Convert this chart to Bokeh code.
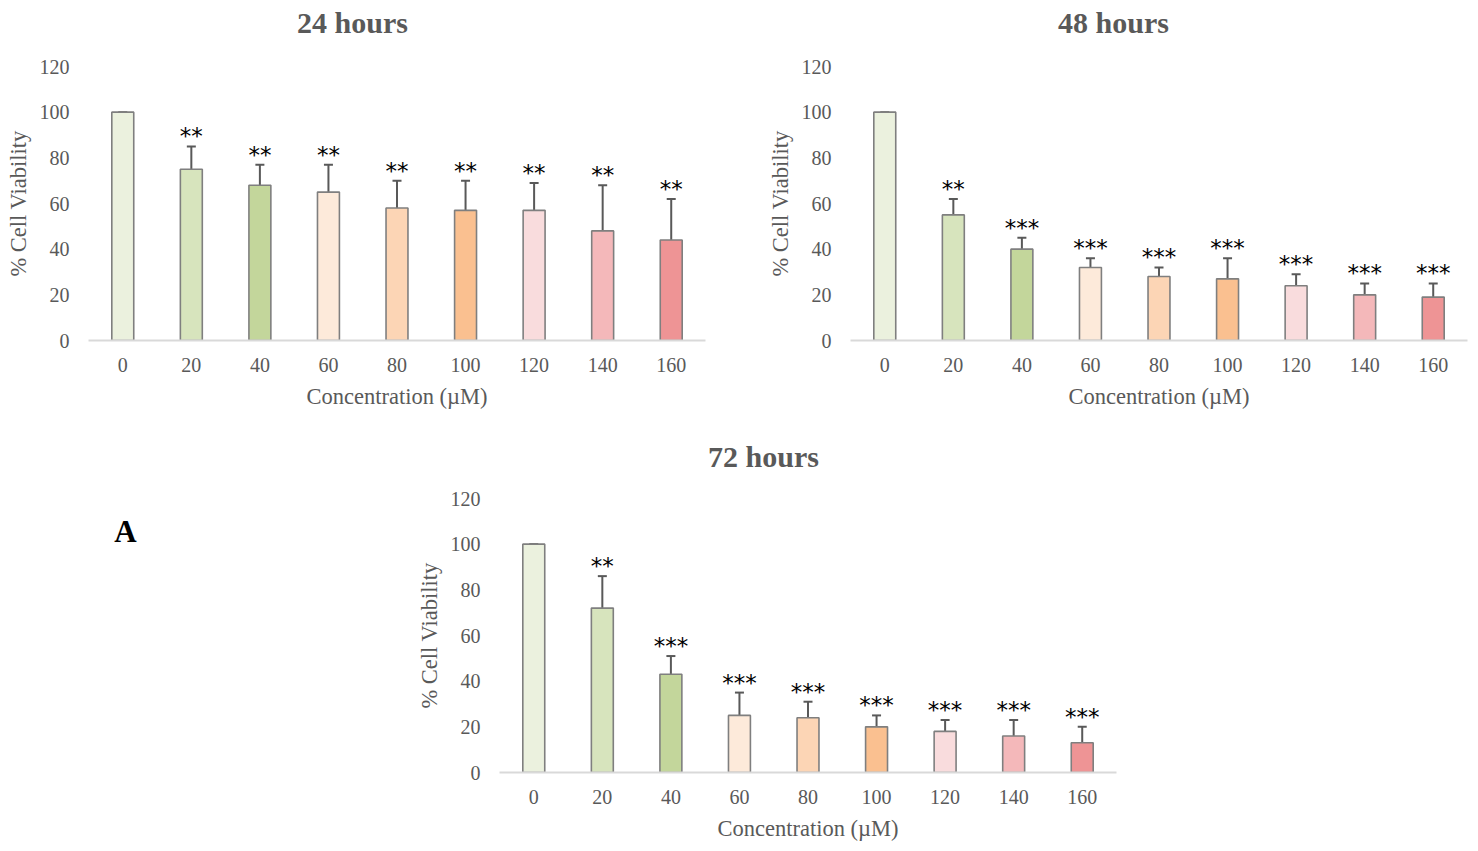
from bokeh.plotting import figure
from bokeh.models import ColumnDataSource, Whisker, TeeHead, Range1d, FixedTicker
from bokeh.layouts import column, row
from bokeh.core.properties import value
from bokeh.embed import file_html
from bokeh.resources import INLINE

# concentrations (µM) and bar colours
concentrations = ["0", "20", "40", "60", "80", "100", "120", "140", "160"]
bar_colors = ["#ebf1de", "#d7e4bd", "#c3d69b", "#fdeada", "#fcd5b5",
              "#fac090", "#f9dcdd", "#f4b8ba", "#ee9495"]

# % cell viability, standard deviation and significance marks
viab_24 = [100, 75, 68, 65, 58, 57, 57, 48, 44]
err_24 = [0, 10, 9, 12, 12, 13, 12, 20, 18]
stars_24 = ["", "**", "**", "**", "**", "**", "**", "**", "**"]

viab_48 = [100, 55, 40, 32, 28, 27, 24, 20, 19]
err_48 = [0, 7, 5, 4, 4, 9, 5, 5, 6]
stars_48 = ["", "**", "***", "***", "***", "***", "***", "***", "***"]

viab_72 = [100, 72, 43, 25, 24, 20, 18, 16, 13]
err_72 = [0, 14, 8, 10, 7, 5, 5, 7, 7]
stars_72 = ["", "**", "***", "***", "***", "***", "***", "***", "***"]

FONT = "Liberation Serif"
GREY = "#595959"
FRAME_W, FRAME_H = 617, 274


def blank(width, height, left=0, right=0):
    """Empty figure (no axes) used to hold titles / the panel letter."""
    fw = width - left - right
    p = figure(width=width, height=height, x_range=Range1d(0, fw),
               y_range=Range1d(height, 0), x_axis_type=None, y_axis_type=None,
               min_border=0, min_border_left=left, min_border_right=right,
               output_backend="svg", toolbar_location=None)
    p.outline_line_color = None
    p.grid.visible = False
    return p


def header(text, left, right, height, cx, cy):
    # cx is measured from the left edge of the panel frame below
    h = blank(left + FRAME_W + right, height, left, right)
    h.text(x=[cx], y=[cy], text=[text], text_font=value(FONT),
           text_font_size="30px", text_font_style="bold", text_color=GREY,
           text_align="center", text_baseline="middle")
    return h


def make_panel(values, errors, stars, border_left, border_top,
               border_right, border_bottom):
    p = figure(x_range=concentrations, y_range=Range1d(0, 120),
               width=border_left + FRAME_W + border_right,
               height=border_top + FRAME_H + border_bottom,
               min_border_left=border_left, min_border_right=border_right,
               min_border_top=border_top, min_border_bottom=border_bottom,
               output_backend="svg", toolbar_location=None)
    p.outline_line_color = None
    p.grid.visible = False

    src = ColumnDataSource(dict(
        x=concentrations, top=values,
        upper=[v + e for v, e in zip(values, errors)],
        stars=stars, color=bar_colors))

    p.vbar(x="x", top="top", width=0.32, source=src, fill_color="color",
           line_color="#7f7f7f", line_width=1.6)

    p.add_layout(Whisker(base="x", lower="top", upper="upper", source=src,
                         dimension="height", line_color=GREY, line_width=2,
                         upper_head=TeeHead(size=9, line_color=GREY, line_width=2),
                         lower_head=None))

    p.text(x="x", y="upper", text="stars", source=src, text_align="center",
           text_baseline="alphabetic", y_offset=-10, text_font_size="23px",
           text_color="black", text_font=value("DejaVu Sans"))

    # y axis
    p.yaxis.ticker = FixedTicker(ticks=[0, 20, 40, 60, 80, 100, 120])
    p.yaxis.axis_line_color = None
    p.yaxis.major_tick_line_color = None
    p.yaxis.minor_tick_line_color = None
    p.yaxis.major_tick_out = 0
    p.yaxis.major_tick_in = 0
    p.yaxis.major_label_standoff = 19
    p.yaxis.axis_label = "% Cell Viability"
    p.yaxis.axis_label_standoff = 6

    # x axis
    p.xaxis.axis_line_color = "#d9d9d9"
    p.xaxis.axis_line_width = 2
    p.xaxis.major_tick_line_color = None
    p.xaxis.major_tick_out = 0
    p.xaxis.major_tick_in = 0
    p.xaxis.major_label_standoff = 17
    p.xaxis.axis_label = "Concentration (µM)"
    p.xaxis.axis_label_standoff = 9

    for ax in (p.xaxis, p.yaxis):
        ax.major_label_text_font = FONT
        ax.major_label_text_font_size = "20px"
        ax.major_label_text_color = GREY
        ax.axis_label_text_font = FONT
        ax.axis_label_text_font_size = "22.5px"
        ax.axis_label_text_font_style = "normal"
        ax.axis_label_text_color = GREY
    return p


# top row: 24 h and 48 h
h1 = header("24 hours", 88, 10, 40, 264, 22)
h2 = header("48 hours", 135, 5, 40, 263, 22)
p1 = make_panel(viab_24, err_24, stars_24, 88, 26, 10, 80)
p2 = make_panel(viab_48, err_48, stars_48, 135, 26, 5, 80)

# bottom row: panel letter and 72 h
h3 = header("72 hours", 88, 10, 55, 264, 36)
p3 = make_panel(viab_72, err_72, stars_72, 88, 23, 10, 76)
pa = blank(411, 55 + 23 + FRAME_H + 76)
pa.text(x=[125], y=[111], text=["A"], text_font=value(FONT),
        text_font_size="31px", text_font_style="bold", text_color="black",
        text_align="center", text_baseline="middle")

layout = column(row(column(h1, p1), column(h2, p2)),
                row(pa, column(h3, p3)))
open("out.html", "w").write(file_html(layout, INLINE))
